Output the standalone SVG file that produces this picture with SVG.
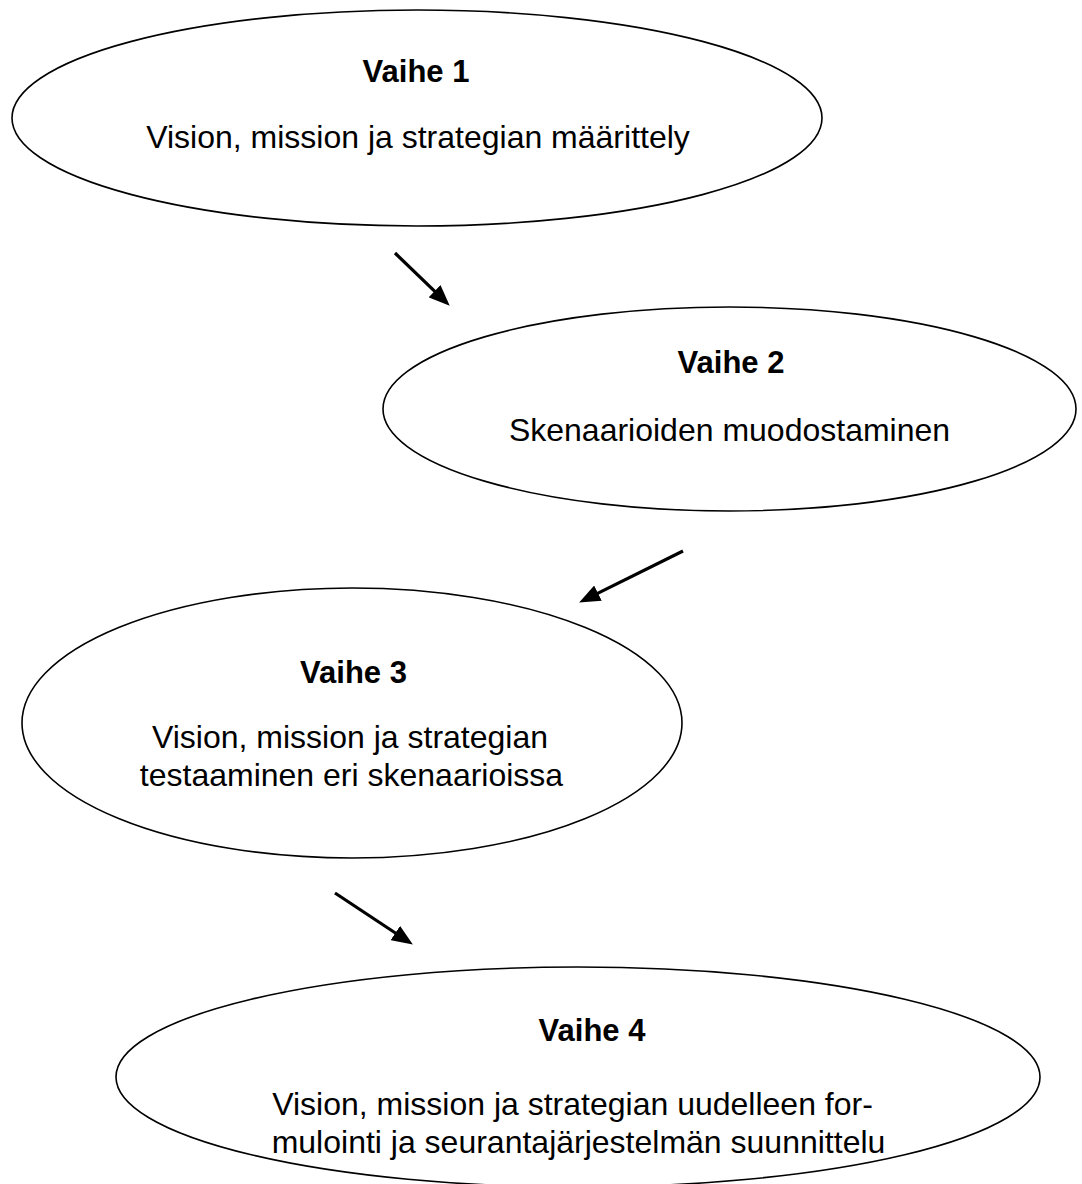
<svg xmlns="http://www.w3.org/2000/svg" width="1082" height="1184" viewBox="0 0 1082 1184">
<defs>
<style>
.node ellipse{fill:#fff;stroke:#000;stroke-width:1.6}
.t{font-family:"Liberation Sans",Arial,sans-serif;font-size:32px;fill:#000;text-anchor:middle}
.b{font-weight:bold;font-size:31px}
.c line{stroke:#000;stroke-width:3.2}
</style>
<marker id="ah" markerUnits="userSpaceOnUse" markerWidth="21" markerHeight="17" refX="10" refY="8.5" orient="auto">
<path d="M0,0 L21,8.5 L0,17 z" fill="#000"/>
</marker>
</defs>
<rect width="1082" height="1184" fill="#fff"/>
<g id="node1" class="node">
<ellipse cx="417" cy="118" rx="405" ry="108"/>
<text class="t b" x="416" y="82">Vaihe 1</text>
<text class="t" x="418" y="148">Vision, mission ja strategian määrittely</text>
</g>
<g id="node2" class="node">
<ellipse cx="729.5" cy="409" rx="346.5" ry="102"/>
<text class="t b" x="731" y="373">Vaihe 2</text>
<text class="t" x="729.5" y="441">Skenaarioiden muodostaminen</text>
</g>
<g id="node3" class="node">
<ellipse cx="352" cy="723" rx="330" ry="135"/>
<text class="t b" x="353.5" y="683">Vaihe 3</text>
<text class="t" x="350" y="748">Vision, mission ja strategian</text>
<text class="t" x="351.5" y="786">testaaminen eri skenaarioissa</text>
</g>
<g id="node4" class="node">
<ellipse cx="578" cy="1077" rx="462" ry="110"/>
<text class="t b" x="592" y="1041">Vaihe 4</text>
<text class="t" x="572.5" y="1115">Vision, mission ja strategian uudelleen for-</text>
<text class="t" x="578.5" y="1153">mulointi ja seurantajärjestelmän suunnittelu</text>
</g>
<g id="connectors" class="c">
<line x1="395" y1="253" x2="441.8" y2="298.1" marker-end="url(#ah)"/>
<line x1="683" y1="551" x2="589" y2="597.6" marker-end="url(#ah)"/>
<line x1="335" y1="893" x2="403.7" y2="938.5" marker-end="url(#ah)"/>
</g>
</svg>
